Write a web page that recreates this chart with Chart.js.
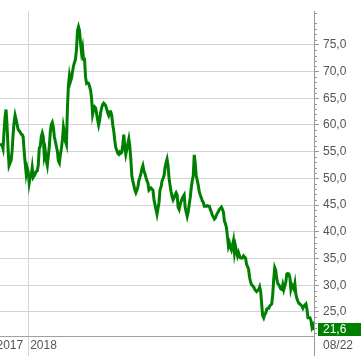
<!DOCTYPE html>
<html>
<head>
<meta charset="utf-8">
<script src="https://cdn.jsdelivr.net/npm/chart.js@4/dist/chart.umd.min.js"></script>
<style>
  body { margin: 0; background: #fff; }
  canvas { display: block; }
</style>
</head>
<body>
<canvas id="chart" width="361" height="356"></canvas>
<script>
// closing prices, one reading per step (Aug 2017 -> Aug 2022)
const closes = [
  56.5, 56.3, 56.3, 55.6, 58.7, 61.4, 62.9, 60.0, 55.6, 52.4,
  52.9, 53.3, 55.1, 58.2, 60.5, 61.8, 61.0, 60.1, 59.2, 58.9,
  58.7, 58.3, 58.2, 57.8, 55.1, 52.9, 50.9, 52.0, 51.3, 49.1,
  50.2, 50.5, 52.0, 50.2, 50.5, 50.9, 51.3, 51.4, 52.4, 55.6,
  56.0, 57.8, 58.5, 57.8, 54.2, 55.1, 53.3, 52.4, 54.2, 56.0,
  58.7, 60.1, 60.5, 59.6, 57.8, 56.9, 56.0, 55.1, 53.3, 52.9,
  54.5, 55.6, 57.2, 59.6, 58.5, 56.9, 56.3, 63.2, 67.4, 69.2,
  68.1, 68.7, 69.9, 71.0, 71.7, 72.3, 74.1, 77.7, 78.4, 77.7,
  75.4, 73.6, 74.5, 72.3, 72.3, 69.0, 67.8, 67.9, 67.8, 67.2,
  66.5, 65.0, 62.0, 62.9, 63.4, 63.2, 62.1, 61.0, 60.0, 60.9,
  62.3, 63.2, 63.8, 64.1, 63.9, 63.6, 63.0, 62.3, 61.8, 62.5,
  62.5, 61.8, 60.1, 58.9, 57.2, 55.8, 55.3, 54.7, 54.5, 54.9,
  54.7, 54.9, 56.3, 58.2, 56.0, 54.5, 55.4, 56.5, 57.4, 56.0,
  53.6, 50.5, 49.5, 48.7, 47.8, 47.3, 47.8, 48.4, 49.6, 50.2,
  50.9, 51.8, 52.4, 51.4, 50.9, 50.2, 49.6, 49.1, 47.8, 48.0,
  48.2, 48.0, 47.8, 46.0, 45.1, 44.2, 43.3, 44.4, 45.5, 47.8,
  48.4, 49.5, 50.0, 50.5, 52.0, 52.9, 53.6, 52.4, 50.0, 48.7,
  47.5, 46.6, 46.0, 46.4, 46.9, 47.3, 46.9, 44.6, 44.2, 45.1,
  45.7, 46.2, 46.6, 46.9, 44.6, 43.7, 42.9, 43.7, 45.1, 46.4,
  48.2, 49.5, 50.5, 54.4, 52.9, 50.5, 49.6, 48.7, 47.5, 46.9,
  46.4, 45.8, 45.5, 44.8, 44.8, 44.8, 44.9, 44.8, 44.8, 44.2,
  43.7, 43.1, 42.8, 42.4, 42.6, 43.1, 43.5, 43.8, 44.2, 44.4,
  44.6, 44.2, 43.7, 42.0, 41.5, 40.8, 39.1, 37.3, 37.9, 37.1,
  36.6, 37.5, 38.4, 36.1, 37.3, 36.4, 35.5, 36.1, 35.5, 35.1,
  35.1, 35.1, 35.5, 35.3, 35.1, 33.9, 33.5, 33.0, 31.5, 30.6,
  30.1, 29.9, 29.7, 29.3, 29.0, 28.8, 29.0, 29.2, 29.7, 28.8,
  26.5, 24.3, 23.9, 24.5, 24.8, 25.5, 25.7, 25.7, 26.1, 26.3,
  26.5, 28.3, 31.2, 33.3, 32.8, 31.2, 30.3, 30.1, 29.7, 29.3,
  29.2, 30.1, 29.2, 29.9, 30.6, 32.1, 32.2, 32.1, 31.5, 29.3,
  30.1, 29.7, 29.3, 30.3, 28.3, 27.5, 27.0, 26.6, 26.5, 26.3,
  26.1, 25.7, 26.1, 26.3, 26.5, 25.5, 23.9, 23.9, 23.9, 23.4,
  22.1, 22.5, 21.6
];
const yearLabels = ['2017', '2018'];
const yearBreak = 28;            // first step of 2018
const lastLabel = '08/22';
const yTicks = [25, 30, 35, 40, 45, 50, 55, 60, 65, 70, 75];
const yMin = 20.5;
const yMax = 81.3;

const GREEN = '#008000';
const FONT = "'Liberation Sans Narrow', 'Liberation Sans', Arial, sans-serif";
const fmt = v => v.toFixed(1).replace('.', ',');

Chart.defaults.font.family = FONT;
Chart.defaults.font.size = 12;

// minor ticks, x labels and the last-price box
const extras = {
  id: 'extras',
  afterDraw(chart) {
    const { ctx, chartArea: a, scales: { x, y } } = chart;
    ctx.save();

    ctx.strokeStyle = '#999';
    ctx.lineWidth = 1;
    for (let v = Math.ceil(yMin); v <= Math.floor(yMax); v++) {
      if (v % 5 === 0) continue;
      const py = Math.round(y.getPixelForValue(v)) + 0.5;
      ctx.beginPath();
      ctx.moveTo(a.right, py);
      ctx.lineTo(a.right + 3, py);
      ctx.stroke();
    }

    ctx.font = '12px ' + FONT;
    ctx.fillStyle = '#555';
    ctx.textBaseline = 'middle';
    const bx = x.getPixelForValue(yearBreak);
    const ly = a.bottom + 10;
    ctx.textAlign = 'right';
    ctx.fillText(yearLabels[0], bx - 5, ly);
    ctx.textAlign = 'left';
    ctx.fillText(yearLabels[1], bx + 2, ly);
    ctx.fillText(lastLabel, a.right + 9, ly);

    const last = closes[closes.length - 1];
    const py = Math.round(y.getPixelForValue(last));
    ctx.fillStyle = GREEN;
    ctx.fillRect(a.right + 4, py - 7, chart.width - a.right - 4, 13);
    ctx.fillStyle = '#fff';
    ctx.fillText(fmt(last), a.right + 9, py);

    ctx.restore();
  }
};

new Chart(document.getElementById('chart'), {
  type: 'line',
  data: {
    datasets: [{
      data: closes.map((v, i) => ({ x: i, y: v })),
      borderColor: GREEN,
      borderWidth: 3,
      pointRadius: 0,
      tension: 0,
      fill: false
    }]
  },
  options: {
    responsive: false,
    animation: false,
    layout: { padding: 0 },
    plugins: { legend: { display: false }, tooltip: { enabled: false } },
    scales: {
      x: {
        type: 'linear',
        min: 0,
        max: closes.length - 1,
        afterBuildTicks: s => { s.ticks = [{ value: yearBreak }, { value: closes.length - 1 }]; },
        afterFit: s => { s.height = 20; },
        grid: {
          color: c => c.tick && c.tick.value === yearBreak ? '#d3d3d3' : '#999',
          tickColor: c => c.tick && c.tick.value === yearBreak ? '#d3d3d3' : '#999',
          tickLength: 20
        },
        border: { color: '#a0a0a0' },
        ticks: { display: false }
      },
      y: {
        position: 'right',
        min: yMin,
        max: yMax,
        afterBuildTicks: s => { s.ticks = yTicks.map(v => ({ value: v })); },
        afterFit: s => { s.width = 47; },
        grid: { color: '#d3d3d3', tickColor: '#999', tickLength: 5 },
        border: { color: '#999' },
        ticks: { color: '#555', padding: 4, callback: v => fmt(v) }
      }
    }
  },
  plugins: [extras]
});
</script>
</body>
</html>
